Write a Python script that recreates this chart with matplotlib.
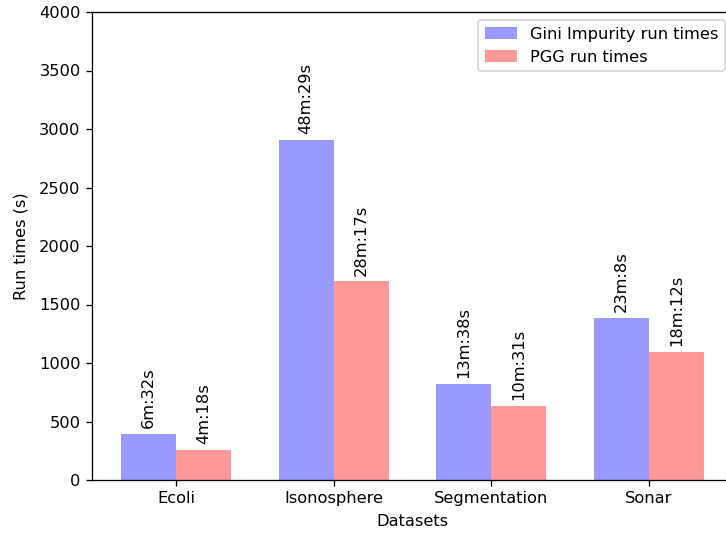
import matplotlib
matplotlib.use("Agg")
import matplotlib.pyplot as plt
import numpy as np

datasets = ["Ecoli", "Isonosphere", "Segmentation", "Sonar"]
gini_times = [392, 2909, 818, 1388]
pgg_times = [258, 1697, 631, 1092]
gini_labels = ["6m:32s", "48m:29s", "13m:38s", "23m:8s"]
pgg_labels = ["4m:18s", "28m:17s", "10m:31s", "18m:12s"]

W, H = 726, 534
DPI = 117
fig = plt.figure(figsize=(W / DPI, H / DPI), dpi=DPI)
ax = fig.add_axes([92 / W, (H - 480) / H, (733 - 92) / W, (480 - 12) / H])

index = np.arange(len(datasets))
width = 0.35
ax.bar(index, gini_times, width, color="blue", alpha=0.4, label="Gini Impurity run times")
ax.bar(index + width, pgg_times, width, color="red", alpha=0.4, label="PGG run times")

for x, h, t in zip(index, gini_times, gini_labels):
    ax.text(x, h + 50, t, rotation=90, ha="center", va="bottom")
for x, h, t in zip(index + width, pgg_times, pgg_labels):
    ax.text(x, h + 50, t, rotation=90, ha="center", va="bottom")

ax.set_xticks(index + width / 2)
ax.set_xticklabels(datasets)
ax.set_xlim(-0.36, 3.71)
ax.set_ylim(0, 4000)
ax.set_yticks(np.arange(0, 4001, 500))
ax.set_xlabel("Datasets", labelpad=5)
ax.set_ylabel("Run times (s)", labelpad=6.5)
ax.legend(loc="upper right")

fig.savefig("out.png", dpi=DPI)
